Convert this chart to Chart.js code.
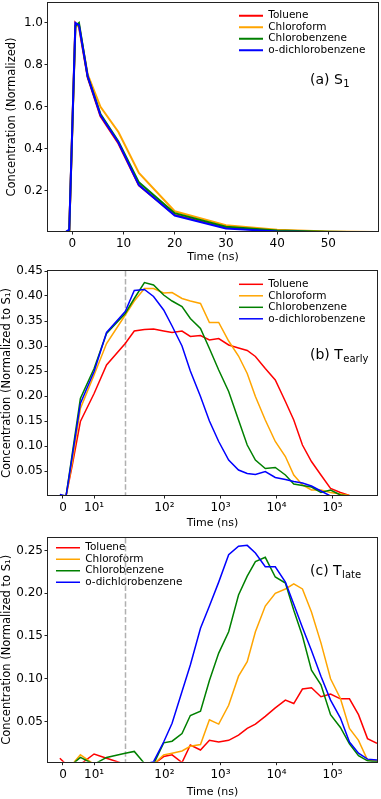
<!DOCTYPE html>
<html>
<head>
<meta charset="utf-8">
<script src="https://cdn.jsdelivr.net/npm/chart.js@4/dist/chart.umd.min.js"></script>
<style>
  html, body { margin: 0; padding: 0; background: #fff; }
  #wrap { position: relative; width: 381px; height: 799px; overflow: hidden; }
  canvas { position: absolute; left: 0; }
</style>
</head>
<body>
<div id="wrap">
  <canvas id="s1" width="381" height="265" style="top:0px"></canvas>
  <canvas id="early" width="381" height="269" style="top:262px"></canvas>
  <canvas id="late" width="381" height="267" style="top:532px"></canvas>
</div>
<script>
var solvents = ['Toluene', 'Chloroform', 'Chlorobenzene', 'o-dichlorobenzene'];
var colors = ['#ff0000', '#ffa500', '#008000', '#0000ff'];

// (a) S1, linear time axis (ns)
var timeS1 = [-5, -1.5, -0.6, 0.6, 1.3, 3, 5.5, 9, 13, 20, 30, 40, 50, 60];
var s1Toluene = [0, 0, 0.01, 1.0, 0.98, 0.74, 0.555, 0.425, 0.225, 0.085, 0.023, 0.008, 0.003, 0.001];
var s1Chloroform = [0, 0, 0.01, 0.98, 0.99, 0.755, 0.60, 0.48, 0.285, 0.102, 0.035, 0.014, 0.006, 0.003];
var s1Chlorobenzene = [0, 0, 0.01, 0.985, 1.0, 0.745, 0.565, 0.435, 0.24, 0.093, 0.028, 0.010, 0.004, 0.002];
var s1Dichloro = [0, 0, 0.015, 1.0, 0.99, 0.745, 0.56, 0.43, 0.227, 0.082, 0.020, 0.006, 0.002, 0.001];
var s1XTicks = [0, 10, 20, 30, 40, 50];
var s1YTicks = [0.2, 0.4, 0.6, 0.8, 1.0];

// (b) and (c), symlog time axis (ns)
var timeT = [-1, 1, 3, 5.6, 10, 14, 20, 29, 44, 64, 97, 137, 206, 290, 440, 635, 930, 1400, 2100, 3000,
  4200, 6300, 9500, 14400, 20300, 29000, 42000, 62000, 92000, 138000, 200000, 290000, 420000, 620000];

var earlyToluene = [0, 0, 0.062, 0.149, 0.205, 0.262, 0.305, 0.33, 0.333, 0.334, 0.33, 0.327, 0.33, 0.319, 0.321, 0.312, 0.315,
  0.302, 0.296, 0.291, 0.279, 0.255, 0.232, 0.189, 0.152, 0.102, 0.069, 0.042, 0.015, 0.007, 0.001, 0, 0, 0];
var earlyChloroform = [0, 0, 0.068, 0.175, 0.242, 0.305, 0.362, 0.39, 0.415, 0.415, 0.406, 0.407, 0.395, 0.39, 0.385, 0.347, 0.347,
  0.31, 0.28, 0.245, 0.199, 0.152, 0.109, 0.079, 0.042, 0.022, 0.012, 0.012, 0.007, 0.004, 0.001, 0, 0, 0];
var earlyChlorobenzene = [0, 0, 0.085, 0.195, 0.255, 0.325, 0.365, 0.395, 0.427, 0.422, 0.402, 0.39, 0.379, 0.355, 0.335, 0.295, 0.252,
  0.209, 0.152, 0.102, 0.072, 0.055, 0.057, 0.042, 0.024, 0.021, 0.018, 0.007, 0.012, 0.002, 0, 0, 0, 0];
var earlyDichloro = [0.003, 0, 0.08, 0.185, 0.249, 0.327, 0.369, 0.411, 0.413, 0.399, 0.372, 0.34, 0.30, 0.25, 0.199, 0.15, 0.109,
  0.072, 0.052, 0.045, 0.043, 0.049, 0.037, 0.033, 0.029, 0.026, 0.02, 0.01, 0, 0, 0, 0, 0, 0];

var lateToluene = [0.007, 0, 0, 0, 0.012, 0.007, 0, 0, 0, 0, 0.009, 0.011, 0.002, 0.0225, 0.0167, 0.028, 0.026,
  0.028, 0.034, 0.042, 0.047, 0.056, 0.066, 0.075, 0.071, 0.088, 0.0895, 0.079, 0.082, 0.0765, 0.0765, 0.058, 0.030, 0.0245];
var lateChloroform = [0, 0, 0, 0.011, 0, 0, 0, 0, 0, 0, 0.011, 0.013, 0.0155, 0.021, 0.023, 0.052, 0.047,
  0.069, 0.103, 0.12, 0.155, 0.185, 0.20, 0.205, 0.211, 0.205, 0.178, 0.142, 0.10, 0.077, 0.042, 0.028, 0.005, 0.004];
var lateChlorobenzene = [0, 0, 0, 0.008, 0, 0.008, 0.013, 0.015, 0.001, 0, 0.025, 0.027, 0.036, 0.057, 0.062, 0.098, 0.13,
  0.155, 0.198, 0.22, 0.237, 0.242, 0.219, 0.212, 0.18, 0.15, 0.11, 0.093, 0.058, 0.043, 0.024, 0.01, 0.004, 0.003];
var lateDichloro = [0, 0, 0, 0, 0, 0, 0, 0, 0, 0.003, 0.026, 0.048, 0.085, 0.116, 0.159, 0.185, 0.213,
  0.245, 0.255, 0.256, 0.247, 0.231, 0.231, 0.213, 0.187, 0.16, 0.133, 0.103, 0.075, 0.054, 0.026, 0.013, 0.006, 0.005];

var logTickTimes = [0, 10, 100, 1000, 10000, 100000];
var logTickLabels = ['0', '10¹', '10²', '10³', '10⁴', '10⁵'];
var earlyYTicks = [0.05, 0.10, 0.15, 0.20, 0.25, 0.30, 0.35, 0.40, 0.45];
var lateYTicks = [0.05, 0.10, 0.15, 0.20, 0.25];

// symlog like matplotlib: linthresh 20, linscale 1
var LINTHRESH = 20;
var LINC = 1 / (1 - 1 / 10);
function symlog(t) {
    var a = Math.abs(t);
    var v = a <= LINTHRESH ? a / LINTHRESH * LINC : LINC + Math.log10(a / LINTHRESH);
    return t < 0 ? -v : v;
}

Chart.defaults.font.family = "'DejaVu Sans', sans-serif";
Chart.defaults.font.size = 11;
Chart.defaults.color = '#000';

var TICK_FONT = {size: 12};
var TITLE_FONT = {size: 11.5};
var LEGEND_FONT = 10.5;

// box around the plot area
var framePlugin = {
    id: 'frame',
    afterDatasetsDraw: function (chart) {
        var a = chart.chartArea, ctx = chart.ctx;
        ctx.save();
        ctx.strokeStyle = '#222';
        ctx.lineWidth = 1;
        ctx.strokeRect(Math.round(a.left) - 0.5, Math.round(a.top) - 0.5,
            Math.round(a.right) - Math.round(a.left) + 1, Math.round(a.bottom) - Math.round(a.top) + 1);
        ctx.restore();
    }
};

// dashed line at the symlog threshold
var thresholdPlugin = {
    id: 'threshold',
    beforeDatasetsDraw: function (chart, args, opts) {
        if (opts.time === undefined) return;
        var a = chart.chartArea, ctx = chart.ctx;
        var x = Math.round(chart.scales.x.getPixelForValue(symlog(opts.time))) + 0.5;
        ctx.save();
        ctx.strokeStyle = '#b0b0b0';
        ctx.lineWidth = 1.5;
        ctx.setLineDash([5.5, 2.4]);
        ctx.beginPath();
        ctx.moveTo(x, a.top);
        ctx.lineTo(x, a.bottom);
        ctx.stroke();
        ctx.restore();
    }
};

// "(a) S1" style label with subscript
var panelLabelPlugin = {
    id: 'panelLabel',
    afterDraw: function (chart, args, opts) {
        if (!opts.main) return;
        var ctx = chart.ctx;
        ctx.save();
        ctx.fillStyle = '#000';
        ctx.textBaseline = 'middle';
        ctx.font = "14px 'DejaVu Sans'";
        ctx.fillText(opts.main, opts.x, opts.y);
        var w = ctx.measureText(opts.main).width;
        ctx.font = "10px 'DejaVu Sans'";
        ctx.fillText(opts.sub, opts.x + w + 0.5, opts.y + 4);
        ctx.restore();
    }
};

// move the in-plot legend to where the reference has it
var legendPlacePlugin = {
    id: 'legendPlace',
    afterLayout: function (chart, args, opts) {
        var lg = chart.legend;
        if (!lg || opts.x === undefined) return;
        var pad = lg.options.labels.padding;
        lg.left = opts.x - pad;
        lg.top = opts.y - LEGEND_FONT / 2 - pad;
        lg.right = chart.width;
    }
};

function makeDatasets(times, series, width, xfn) {
    return series.map(function (values, i) {
        return {
            label: solvents[i],
            data: values.map(function (v, j) { return {x: xfn(times[j]), y: v}; }),
            borderColor: colors[i],
            backgroundColor: colors[i],
            borderWidth: width,
            pointRadius: 0,
            tension: 0,
            fill: false
        };
    }).reverse(); // blue drawn on top, like the original
}

function makeChart(id, cfg) {
    var H = document.getElementById(id).height;
    return new Chart(document.getElementById(id), {
        type: 'line',
        data: {datasets: cfg.datasets},
        options: {
            responsive: false,
            animation: false,
            events: [],
            devicePixelRatio: 1,
            layout: {autoPadding: false, padding: cfg.padding},
            plugins: {
                legend: {
                    position: 'chartArea',
                    align: 'start',
                    reverse: true,
                    labels: {
                        usePointStyle: true,
                        pointStyle: 'line',
                        pointStyleWidth: 24,
                        boxHeight: 10,
                        padding: 1,
                        color: '#000',
                        font: {size: LEGEND_FONT}
                    }
                },
                tooltip: {enabled: false},
                legendPlace: cfg.legendAt,
                panelLabel: cfg.label,
                threshold: cfg.threshold || {}
            },
            scales: {
                x: {
                    type: 'linear',
                    min: cfg.xMin,
                    max: cfg.xMax,
                    afterFit: function (s) { s.height = H - cfg.bottom; s.paddingLeft = 0; s.paddingRight = 0; },
                    afterBuildTicks: function (s) { s.ticks = cfg.xTicks.map(function (v) { return {value: v}; }); },
                    border: {display: false},
                    grid: {drawOnChartArea: false, drawTicks: true, tickLength: 3.5, tickColor: '#222'},
                    ticks: {padding: 2, color: '#000', font: TICK_FONT, maxRotation: 0, autoSkip: false, callback: cfg.xLabel},
                    title: {display: true, text: 'Time (ns)', color: '#000', font: {size: 11}, padding: {top: 0, bottom: cfg.xTitlePad}}
                },
                y: {
                    type: 'linear',
                    min: cfg.yMin,
                    max: cfg.yMax,
                    afterFit: function (s) { s.width = 48; s.paddingTop = 0; s.paddingBottom = 0; },
                    afterBuildTicks: function (s) { s.ticks = cfg.yTicks.map(function (v) { return {value: v}; }); },
                    border: {display: false},
                    grid: {drawOnChartArea: false, drawTicks: true, tickLength: 3.5, tickColor: '#222'},
                    ticks: {padding: 1.5, color: '#000', font: TICK_FONT, autoSkip: false, callback: cfg.yLabel},
                    title: {display: true, text: cfg.yTitle, color: '#000', font: TITLE_FONT, padding: {top: cfg.yTitlePad, bottom: 0}}
                }
            }
        },
        plugins: [framePlugin, thresholdPlugin, panelLabelPlugin, legendPlacePlugin]
    });
}

function logLabel(value, index) { return logTickLabels[index]; }

makeChart('s1', {
    datasets: makeDatasets(timeS1, [s1Toluene, s1Chloroform, s1Chlorobenzene, s1Dichloro], 2, function (t) { return t; }),
    padding: {top: 3, right: 3, left: 0, bottom: 0},
    bottom: 231,
    xMin: -4.75, xMax: 59.7,
    yMin: 0.008, yMax: 1.095,
    xTicks: s1XTicks,
    yTicks: s1YTicks,
    xLabel: function (v) { return String(v); },
    yLabel: function (v) { return v.toFixed(1); },
    xTitlePad: 1.7,
    yTitle: 'Concentration (Normalized)',
    yTitlePad: 5,
    legendAt: {x: 239, y: 15.7},
    label: {main: '(a) S', sub: '1', x: 310, y: 80}
});

makeChart('early', {
    datasets: makeDatasets(timeT, [earlyToluene, earlyChloroform, earlyChlorobenzene, earlyDichloro], 1.5, symlog),
    padding: {top: 9, right: 4, left: 0, bottom: 0},
    bottom: 495 - 262,
    xMin: symlog(-4.8), xMax: symlog(620000),
    yMin: 0.002, yMax: 0.45,
    xTicks: logTickTimes.map(symlog),
    yTicks: earlyYTicks,
    xLabel: logLabel,
    yLabel: function (v) { return v.toFixed(2); },
    xTitlePad: 1.1,
    yTitle: 'Concentration (Normalized to S₁)',
    yTitlePad: 0,
    legendAt: {x: 239, y: 22.3},
    label: {main: '(b) T', sub: 'early', x: 310, y: 93},
    threshold: {time: LINTHRESH}
});

makeChart('late', {
    datasets: makeDatasets(timeT, [lateToluene, lateChloroform, lateChlorobenzene, lateDichloro], 1.5, symlog),
    padding: {top: 6, right: 4, left: 0, bottom: 0},
    bottom: 761.7 - 532,
    xMin: symlog(-4.8), xMax: symlog(620000),
    yMin: 0.003, yMax: 0.2646,
    xTicks: logTickTimes.map(symlog),
    yTicks: lateYTicks,
    xLabel: logLabel,
    yLabel: function (v) { return v.toFixed(2); },
    xTitlePad: 0.7,
    yTitle: 'Concentration (Normalized to S₁)',
    yTitlePad: 0,
    legendAt: {x: 56, y: 15.7},
    label: {main: '(c) T', sub: 'late', x: 310, y: 39.7},
    threshold: {time: LINTHRESH}
});
</script>
</body>
</html>
